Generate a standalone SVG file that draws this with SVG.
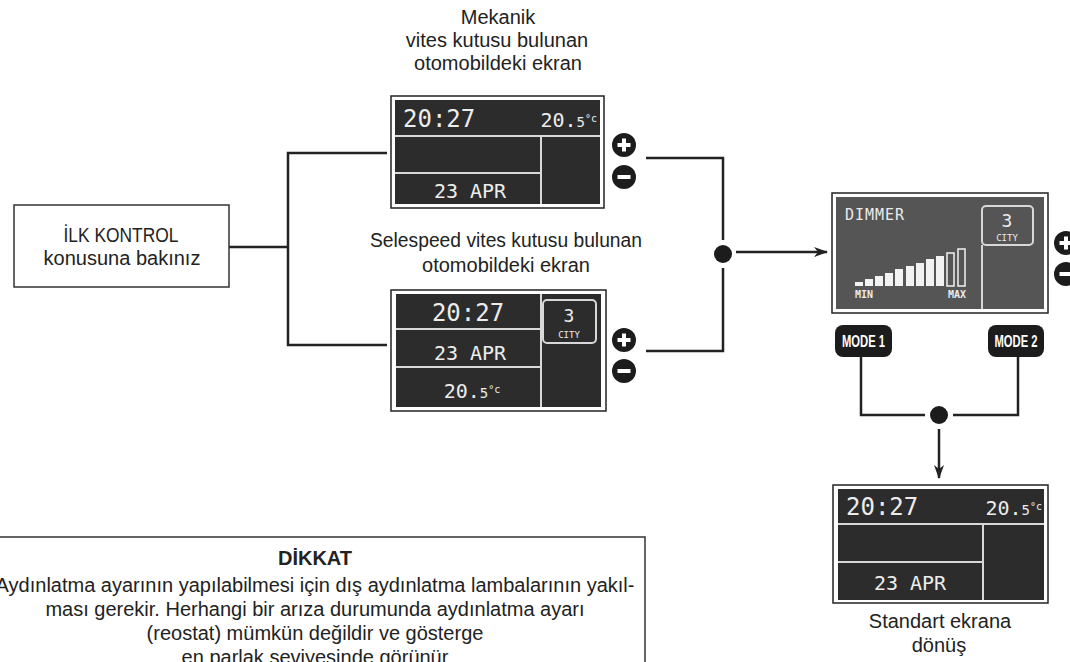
<svg xmlns="http://www.w3.org/2000/svg" width="1070" height="662" viewBox="0 0 1070 662">
<defs>
<style>
.lbl{font-family:"Liberation Sans",Arial,sans-serif;font-size:20px;fill:#222;text-anchor:middle}
.note{font-family:"Liberation Sans",Arial,sans-serif;font-size:20px;fill:#222;text-anchor:middle}
.frame{fill:#fff;stroke:#222;stroke-width:1.5}
.scr{fill:#2c2c2c}
.scr2{fill:#555}
.div{stroke:#d8d8d8;stroke-width:2;fill:none}
.lcd{font-family:"DejaVu Sans Mono","Liberation Mono",monospace;fill:#ececec}
.conn{stroke:#222;stroke-width:2.5;fill:none}
.btn{fill:#1c1c1c}
.btxt{font-family:"Liberation Sans",Arial,sans-serif;font-weight:bold;font-size:16px;fill:#fff;text-anchor:middle}
.pm{fill:#1c1c1c}
.pmbar{stroke:#fff;stroke-width:4;stroke-linecap:butt}
</style>
<marker id="arr" viewBox="0 0 14 10" refX="13" refY="5" markerWidth="14" markerHeight="10" markerUnits="userSpaceOnUse" orient="auto">
<path d="M0,0 L14,5 L0,10 L4,5 Z" fill="#222"/>
</marker>
<g id="plus"><circle r="12" class="pm"/><line x1="-6.5" y1="0" x2="6.5" y2="0" class="pmbar"/><line x1="0" y1="-6.5" x2="0" y2="6.5" class="pmbar"/></g>
<g id="minus"><circle r="12" class="pm"/><line x1="-6.5" y1="0" x2="6.5" y2="0" class="pmbar"/></g>
</defs>
<rect width="1070" height="662" fill="#fff"/>

<g id="connectors">
<polyline class="conn" points="229,247 288,247"/>
<polyline class="conn" points="387,153 288,153 288,345 387,345"/>
<polyline class="conn" points="646,158 723,158 723,240"/>
<polyline class="conn" points="723,268 723,351 646,351"/>
<circle cx="723" cy="254" r="9" fill="#1c1c1c"/>
<line class="conn" x1="736" y1="252" x2="827" y2="252" marker-end="url(#arr)"/>
<polyline class="conn" points="861,357 861,415 925,415"/>
<polyline class="conn" points="953,415 1018,415 1018,357"/>
<circle cx="939" cy="415" r="9" fill="#1c1c1c"/>
<line class="conn" x1="939" y1="429" x2="939" y2="478" marker-end="url(#arr)"/>
</g>

<g id="ilk-kontrol">
<rect x="14" y="205" width="215" height="82" fill="#fff" stroke="#333" stroke-width="1.5"/>
<text class="lbl" x="121" y="242" textLength="115" lengthAdjust="spacingAndGlyphs">İLK KONTROL</text>
<text class="lbl" x="122" y="265">konusuna bakınız</text>
</g>

<g id="mekanik-display">
<text class="lbl" x="498" y="24">Mekanik</text>
<text class="lbl" x="497" y="47">vites kutusu bulunan</text>
<text class="lbl" x="498" y="70">otomobildeki ekran</text>
<rect class="frame" x="391" y="96" width="213" height="112"/>
<rect class="scr" x="395" y="100" width="205" height="104"/>
<path class="div" d="M395,136 H600 M541,136 V204 M395,173 H541"/>
<text class="lcd" x="403" y="127" font-size="24">20:27</text>
<text class="lcd" x="597" y="127" text-anchor="end" font-size="20">20.<tspan font-size="14">5</tspan><tspan font-size="10" dy="-5">°c</tspan></text>
<text class="lcd" x="470" y="198" text-anchor="middle" font-size="20">23 APR</text>
<use href="#plus" x="624" y="145"/>
<use href="#minus" x="624" y="177"/>
</g>

<g id="selespeed-display">
<text class="lbl" x="506" y="247" textLength="272" lengthAdjust="spacingAndGlyphs">Selespeed vites kutusu bulunan</text>
<text class="lbl" x="506" y="272">otomobildeki ekran</text>
<rect class="frame" x="391" y="290" width="215" height="121"/>
<rect class="scr" x="396" y="294" width="205" height="113"/>
<path class="div" d="M541,294 V407 M396,329 H541 M396,367 H541"/>
<rect x="543" y="300" width="53" height="43" rx="4" class="div"/>
<text class="lcd" x="569" y="322" text-anchor="middle" font-size="18">3</text>
<text class="lcd" x="569" y="338" text-anchor="middle" font-size="9">CITY</text>
<text class="lcd" x="468" y="321" text-anchor="middle" font-size="24">20:27</text>
<text class="lcd" x="470" y="360" text-anchor="middle" font-size="20">23 APR</text>
<text class="lcd" x="472" y="398" text-anchor="middle" font-size="20">20.<tspan font-size="14">5</tspan><tspan font-size="10" dy="-5">°c</tspan></text>
<use href="#plus" x="624" y="340"/>
<use href="#minus" x="624" y="371"/>
</g>

<g id="dimmer-display">
<rect class="frame" x="832" y="193" width="216" height="120"/>
<rect class="scr2" x="836" y="197" width="208" height="112"/>
<path class="div" d="M982,245 V309"/>
<rect x="982" y="206" width="51" height="39" rx="4" class="div"/>
<text class="lcd" x="1007" y="227" text-anchor="middle" font-size="18">3</text>
<text class="lcd" x="1007" y="241" text-anchor="middle" font-size="9">CITY</text>
<text class="lcd" x="845" y="220" font-size="15" textLength="59" lengthAdjust="spacing">DIMMER</text>
<g fill="#f2f2f2">
<rect x="855" y="282" width="8" height="4"/>
<rect x="865" y="279" width="8" height="7"/>
<rect x="875" y="276" width="8" height="10"/>
<rect x="885" y="273" width="8" height="13"/>
<rect x="895" y="269" width="8" height="17"/>
<rect x="906" y="266" width="8" height="20"/>
<rect x="916" y="263" width="8" height="23"/>
<rect x="926" y="259" width="8" height="27"/>
<rect x="936" y="256" width="8" height="30"/>
</g>
<rect x="947" y="253" width="7" height="33" fill="none" stroke="#f2f2f2" stroke-width="1.5"/>
<rect x="958" y="249" width="7" height="37" fill="none" stroke="#f2f2f2" stroke-width="1.5"/>
<text class="lcd" x="855" y="298" font-size="10" font-weight="bold">MIN</text>
<text class="lcd" x="966" y="298" font-size="10" font-weight="bold" text-anchor="end">MAX</text>
<use href="#plus" x="1066" y="243"/>
<use href="#minus" x="1066" y="274"/>
</g>

<g id="mode1">
<rect class="btn" x="835" y="325" width="57" height="32" rx="8"/>
<text class="btxt" x="863.5" y="347" textLength="43" lengthAdjust="spacingAndGlyphs">MODE 1</text>
</g>
<g id="mode2">
<rect class="btn" x="988" y="325" width="56" height="32" rx="8"/>
<text class="btxt" x="1016" y="347" textLength="43" lengthAdjust="spacingAndGlyphs">MODE 2</text>
</g>

<g id="standard-display">
<rect class="frame" x="833" y="485" width="215" height="118"/>
<rect class="scr" x="838" y="489" width="206" height="111"/>
<path class="div" d="M838,524 H1044 M983,524 V600 M838,562 H983"/>
<text class="lcd" x="846" y="515" font-size="24">20:27</text>
<text class="lcd" x="1042" y="515" text-anchor="end" font-size="20">20.<tspan font-size="14">5</tspan><tspan font-size="10" dy="-5">°c</tspan></text>
<text class="lcd" x="910" y="590" text-anchor="middle" font-size="20">23 APR</text>
<text class="lbl" x="940" y="628">Standart ekrana</text>
<text class="lbl" x="939" y="652">dönüş</text>
</g>

<g id="dikkat">
<rect x="-10" y="537" width="655" height="160" fill="#fff" stroke="#333" stroke-width="1.5"/>
<text class="note" x="315" y="565" font-weight="bold" font-size="21">DİKKAT</text>
<text class="note" x="315" y="592">Aydınlatma ayarının yapılabilmesi için dış aydınlatma lambalarının yakıl-</text>
<text class="note" x="315" y="616">ması gerekir. Herhangi bir arıza durumunda aydınlatma ayarı</text>
<text class="note" x="315" y="640">(reostat) mümkün değildir ve gösterge</text>
<text class="note" x="315" y="664">en parlak seviyesinde görünür</text>
</g>
</svg>
